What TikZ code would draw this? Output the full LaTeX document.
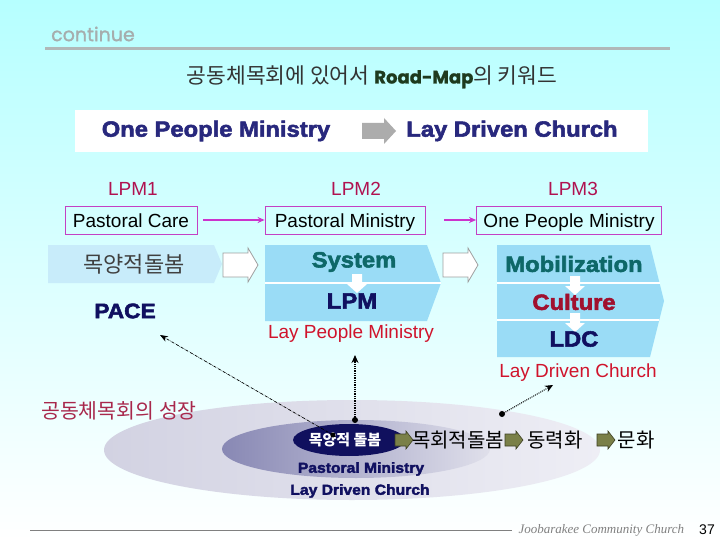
\documentclass[tikz,border=0pt]{standalone}
\usepackage{fontspec}
\setmainfont{Liberation Sans}
\newfontfamily\kr{Noto Sans CJK KR}
\newfontfamily\heavy{Liberation Sans Bold}[FakeBold=2.5,FakeStretch=1.08]
\newfontfamily\gothic{Poppins}[FakeBold=1.2]
\newfontfamily\footserif{Liberation Serif}
\usetikzlibrary{positioning, arrows.meta}
\definecolor{BgCyan}{RGB}{182, 255, 255}
\definecolor{RuleGray}{RGB}{176, 184, 184}
\definecolor{HeadNavy}{RGB}{40, 40, 125}
\definecolor{TextNavy}{RGB}{16, 16, 96}
\definecolor{TextTeal}{RGB}{14, 104, 104}
\definecolor{LpmRed}{RGB}{176, 18, 80}
\definecolor{BoxPurple}{RGB}{196, 64, 196}
\definecolor{ArrowPurple}{RGB}{204, 51, 204}
\definecolor{PaleBlue}{RGB}{200, 236, 250}
\definecolor{SkyBlue}{RGB}{154, 220, 246}
\definecolor{CultureRed}{RGB}{160, 16, 46}
\definecolor{LabelRed}{RGB}{208, 20, 44}
\definecolor{GrowthRed}{RGB}{168, 40, 76}
\definecolor{RingLight}{RGB}{238, 238, 245}
\definecolor{RingMid}{RGB}{210, 210, 226}
\definecolor{RingDark}{RGB}{136, 136, 180}
\definecolor{CoreNavy}{RGB}{16, 16, 94}
\definecolor{Olive}{RGB}{122, 128, 72}
\definecolor{RoadGreen}{RGB}{30, 58, 30}

\begin{document}
\begin{tikzpicture}[x=1pt,y=-1pt,
    stagebox/.style={draw=BoxPurple, line width=0.8pt, minimum height=28pt, inner sep=0pt, text height=15pt, text depth=0pt, font=\fontsize{19}{19}\selectfont},
    lpmlabel/.style={text=LpmRed, font=\fontsize{19}{19}\selectfont},
    bandtext/.style={font=\heavy\fontsize{22}{22}\selectfont},
    krtext/.style={font=\kr\fontsize{20}{20}\selectfont},
    purplearrow/.style={draw=ArrowPurple, line width=1.4pt, -{Stealth[length=7pt,width=6pt]}},
    olivearrow/.pic={\draw[fill=Olive, draw=Olive!50!black, line width=0.6pt]
        (0,-6) -- (11,-6) -- (11,-9) -- (18,0) -- (11,9) -- (11,6) -- (0,6) -- cycle;},
    whitedown/.pic={\fill[white] (-5,0) -- (5,0) -- (5,10) -- (10,10) -- (0,19) -- (-10,10) -- (-5,10) -- cycle;},
    hollowarrow/.pic={\draw[gray!75, fill=white, line width=0.8pt]
        (0,-12) -- (25,-12) -- (25,-17) -- (35,0) -- (25,17) -- (25,12) -- (0,12) -- cycle;}]
\shade[top color=BgCyan, bottom color=white] (0,0) rectangle (720,540);

\node[text=RuleGray!80!gray, font=\gothic\fontsize{19}{19}\selectfont] (cont) at (93,34) {continue};
\draw[RuleGray, line width=3pt] (45,49) -- (670,49);
\node[text=black!80, font=\kr\fontsize{21.5}{21.5}\selectfont] (title) at (372,77)
    {공동체목회에 있어서 {\gothic\bfseries\fontsize{18}{18}\selectfont\color{RoadGreen}Road-Map}의 키워드};

\fill[white] (75,110) rectangle (648,152);
\node[text=HeadNavy, font=\heavy\fontsize{22}{22}\selectfont] (opm) at (216,131) {One People Ministry};
\node[text=HeadNavy, font=\heavy\fontsize{22}{22}\selectfont] (ldc) at (512,131) {Lay Driven Church};
\fill[gray!65] (362,123) -- (384,123) -- (384,118) -- (396,131) -- (384,144) -- (384,139) -- (362,139) -- cycle;

\node[lpmlabel] (lpm1) at (133,189) {LPM1};
\node[lpmlabel] (lpm2) at (356,189) {LPM2};
\node[lpmlabel] (lpm3) at (573,189) {LPM3};
\node[stagebox, minimum width=132pt] (care) at (131,220) {Pastoral Care};
\node[stagebox, minimum width=160pt] (pastoral) at (345,220) {Pastoral Ministry};
\node[stagebox, minimum width=185pt] (onepeople) at (569,220) {One People Ministry};
\draw[purplearrow] ([xshift=6pt]care.east) -- (pastoral.west);
\draw[purplearrow] ([xshift=19pt]pastoral.east) -- (onepeople.west);

\fill[PaleBlue] (48,245) -- (214,245) -- (222,264) -- (214,283) -- (48,283) -- cycle;
\fill[SkyBlue] (265,245) -- (427,245) -- (441,283) -- (427,321) -- (265,321) -- cycle;
\draw[white, line width=2pt] (265,283) -- (441,283);
\fill[SkyBlue] (497,245) -- (650,245) -- (664,301) -- (650,357) -- (497,357) -- cycle;
\draw[white, line width=2pt] (497,283) -- (659.5,283);
\draw[white, line width=2pt] (497,320) -- (659.3,320);
\pic at (223,265) {hollowarrow};
\pic at (443,265) {hollowarrow};
\pic at (357,274) {whitedown};
\pic at (575,276) {whitedown};
\pic at (575,313) {whitedown};

\node[text=black!75, font=\kr\fontsize{22}{22}\selectfont] (care kr) at (134,264) {목양적돌봄};
\node[bandtext, text=TextTeal] (system) at (354,262) {System};
\node[bandtext, text=TextNavy] (lpm) at (352,301) {LPM};
\node[bandtext, text=TextTeal] (mobil) at (574,264) {Mobilization};
\node[bandtext, text=CultureRed] (culture) at (574,302) {Culture};
\node[bandtext, text=TextNavy] (ldcband) at (574,339) {LDC};
\node[bandtext, text=TextNavy, font=\heavy\fontsize{21}{21}\selectfont] (pace) at (125,311) {PACE};
\node[text=LabelRed, font=\fontsize{19}{19}\selectfont] (laypeople) at (351,334) {Lay People Ministry};
\node[text=LabelRed, font=\fontsize{19}{19}\selectfont] (laydriven) at (578,373) {Lay Driven Church};

\shade[left color=RingMid, right color=RingLight] (352,450) ellipse [x radius=248pt, y radius=50pt];
\shade[left color=RingDark, right color=RingMid!70!white] (356,449) ellipse [x radius=134pt, y radius=29pt];
\fill[CoreNavy] (349,440) ellipse [x radius=56pt, y radius=16pt];
\node[text=GrowthRed, font=\kr\fontsize{20.5}{20.5}\selectfont] (growth) at (119,411) {공동체목회의 성장};
\node[text=white, font=\kr\bfseries\fontsize{15}{15}\selectfont] (core) at (345,440) {목양적 돌봄};
\pic at (395,440) {olivearrow};
\node[krtext] (step2) at (458,440) {목회적돌봄};
\pic at (505,440) {olivearrow};
\node[krtext] (step3) at (555,440) {동력화};
\pic at (597,440) {olivearrow};
\node[krtext] (step4) at (636,440) {문화};
\node[text=TextNavy, font=\heavy\fontsize{14.5}{14.5}\selectfont] (pmin) at (361,469) {Pastoral Ministry};
\node[text=TextNavy, font=\heavy\fontsize{14.5}{14.5}\selectfont] (ldcb) at (360,491) {Lay Driven Church};

\coordinate (dotcore) at (333,435);
\coordinate (dotmid) at (355,420);
\coordinate (dotright) at (502,414);
\coordinate (tippace) at (160,335);
\coordinate (tipmid) at (355,355);
\coordinate (tipright) at (553,385);
\fill (dotcore) circle (2.5pt) (dotmid) circle (3pt) (dotright) circle (3pt);
\draw[densely dash dot, line width=0.7pt, -{Stealth[length=8pt,width=6pt]}] (dotcore) -- (tippace);
\draw[densely dotted, line width=1.3pt, -{Stealth[length=8pt,width=7pt]}] (dotmid) -- (tipmid);
\draw[densely dotted, line width=1pt, -{Stealth[length=8pt,width=7pt]}] (dotright) -- (tipright);

\draw[gray, line width=0.8pt] (30,530) -- (512,530);
\node[text=gray, font=\footserif\itshape\fontsize{13}{13}\selectfont, anchor=west] (church) at (515,530) {Joobarakee Community Church};
\node[font=\fontsize{14}{14}\selectfont] (page) at (707,530) {37};
\end{tikzpicture}
\end{document}
